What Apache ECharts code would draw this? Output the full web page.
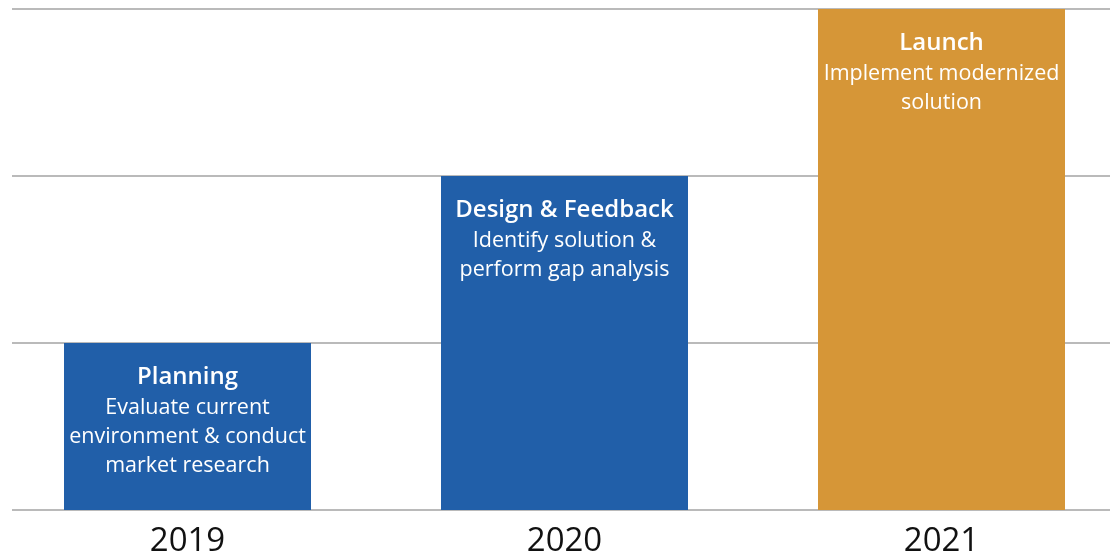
<!DOCTYPE html>
<html>
<head>
<meta charset="utf-8">
<script src="https://cdn.jsdelivr.net/npm/echarts@6/dist/echarts.min.js"></script>
<style>
  html, body { margin: 0; padding: 0; background: #fff; }
  #chart { width: 1113px; height: 557px; }
</style>
</head>
<body>
<div id="chart"></div>
<script>
const years = ['2019', '2020', '2021'];
const stages = [1, 2, 3];
const titles = ['Planning', 'Design & Feedback', 'Launch'];
const details = [
  ['Evaluate current', 'environment & conduct', 'market research'],
  ['Identify solution &', 'perform gap analysis'],
  ['Implement modernized', 'solution'],
];
const colors = ['#215fa9', '#215fa9', '#d69637'];

let myChart = echarts.init(document.getElementById('chart'));

const font = '"Open Sans", "Noto Sans", sans-serif';

let option = {
  animation: false,
  grid: [
    { left: 12, right: 3, top: 9, bottom: 47 },
    { left: -1, right: -17, top: 9, bottom: 47, outerBoundsMode: 'none' },
  ],
  xAxis: [
    {
      gridIndex: 0,
      type: 'category',
      data: years,
      show: false,
    },
    {
      gridIndex: 1,
      type: 'category',
      data: years,
      axisLine: { show: false },
      axisTick: { show: false },
      axisLabel: {
        color: '#111',
        fontSize: 33,
        fontFamily: font,
        margin: 15,
      },
    },
  ],
  yAxis: [
    {
      gridIndex: 0,
      type: 'value',
      min: 0,
      max: 3,
      interval: 1,
      axisLine: { show: false },
      axisTick: { show: false },
      axisLabel: { show: false },
      splitLine: { lineStyle: { color: '#a3a3a3', width: 1.5 } },
    },
    {
      gridIndex: 1,
      type: 'value',
      min: 0,
      max: 3,
      interval: 1,
      show: false,
    },
  ],
  series: [
    {
      type: 'bar',
      xAxisIndex: 1,
      yAxisIndex: 1,
      barWidth: 247,
      data: stages.map((v, i) => ({
        value: v,
        itemStyle: { color: colors[i] },
      })),
      label: {
        show: true,
        position: 'insideTop',
        distance: 19,
        formatter: function (params) {
          const i = params.dataIndex;
          return ['{t|' + titles[i] + '}']
            .concat(details[i].map((d) => '{d|' + d + '}'))
            .join('\n');
        },
        rich: {
          t: {
            color: '#fff',
            fontSize: 24,
            fontWeight: 600,
            fontFamily: font,
            lineHeight: 31,
            align: 'center',
          },
          d: {
            color: '#fff',
            fontSize: 21.5,
            fontFamily: font,
            lineHeight: 29,
            align: 'center',
          },
        },
      },
      z: 3,
    },
  ],
};
option && myChart.setOption(option);
</script>
</body>
</html>
